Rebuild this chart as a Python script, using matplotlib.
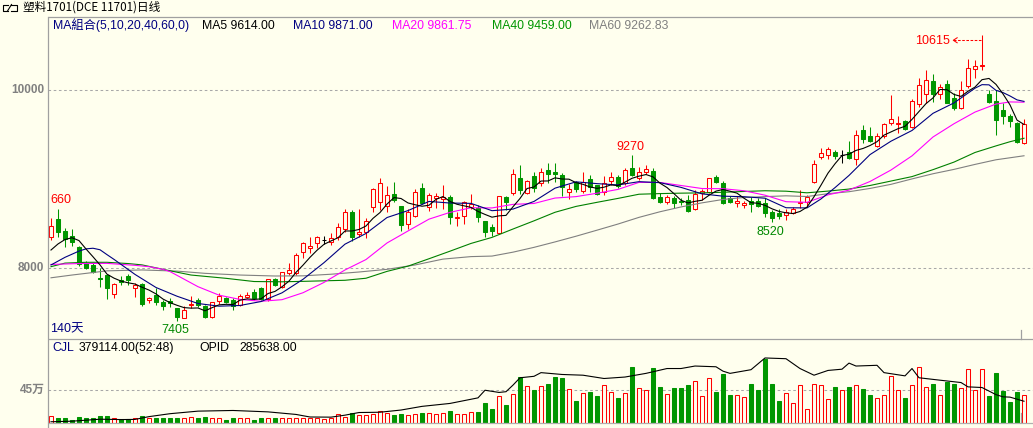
import matplotlib
matplotlib.use('Agg')
import matplotlib.pyplot as plt
from matplotlib.patches import Rectangle

# ---------------- data ----------------
opens = [8345, 8547, 8416, 8363, 8240, 8060, 8034, 7891, 7921, 7704,
         7865, 7910, 7772, 7820, 7641, 7697, 7614, 7633, 7547, 7435,
         7584, 7641, 7573, 7453, 7633, 7667, 7641, 7584, 7678, 7730,
         7772, 7648, 7873, 7790, 7940, 7940, 8184, 8222, 8278, 8315,
         8296, 8353, 8435, 8633, 8379, 8401, 8682, 8738, 8697, 8832,
         8697, 8495, 8589, 8903, 8690, 8791, 8772, 8795, 8562, 8589,
         8682, 8678, 8529, 8465, 8398, 8802, 8847, 9015, 8840, 9038,
         8951, 9101, 9083, 9045, 8850, 8970, 8869, 8996, 8929, 8850,
         8981, 9026, 8951, 9127, 9008, 9083, 9094, 8802, 8746, 8783,
         8757, 8764, 8659, 8839, 8858, 9019, 8959, 8783, 8727, 8708,
         8753, 8753, 8734, 8633, 8614, 8596, 8622, 8727, 8745, 8970,
         9251, 9270, 9300, 9270, 9300, 9221, 9551, 9483, 9375, 9483,
         9625, 9622, 9652, 9588, 9839, 9951, 10101, 9951, 10067, 9914,
         9801, 10048, 10232, 10266, 9951, 9876, 9775, 9711, 9633, 9401]
highs = [8560, 8660, 8446, 8434, 8250, 8079, 8052, 8004, 7925, 7835,
         7910, 7933, 7828, 7828, 7678, 7772, 7641, 7659, 7547, 7573,
         7689, 7667, 7580, 7622, 7723, 7678, 7667, 7708, 7730, 7760,
         7783, 7875, 7891, 7959, 8052, 8165, 8296, 8345, 8360, 8360,
         8398, 8502, 8663, 8652, 8663, 8566, 8896, 9015, 8922, 8971,
         8700, 8660, 8884, 8959, 8847, 8839, 8933, 8821, 8634, 8757,
         8832, 8708, 8530, 8495, 8812, 8810, 9109, 9158, 8989, 9083,
         9120, 9176, 9184, 9071, 8944, 8981, 9083, 9045, 8937, 9034,
         9083, 9045, 9120, 9270, 9139, 9157, 9127, 8847, 8820, 8809,
         8783, 8820, 8877, 8884, 9010, 9045, 8981, 8809, 8809, 8753,
         8794, 8783, 8783, 8652, 8659, 8659, 8689, 8876, 8820, 9214,
         9345, 9356, 9326, 9326, 9427, 9551, 9607, 9588, 9521, 9625,
         9944, 9708, 9663, 9899, 10131, 10225, 10180, 10064, 10112, 9963,
         10105, 10344, 10337, 10615, 10000, 10000, 9850, 9726, 9644, 9670]
lows = [8315, 8352, 8240, 8247, 8023, 7985, 7940, 7790, 7648, 7659,
        7809, 7809, 7678, 7573, 7603, 7584, 7528, 7566, 7405, 7435,
        7547, 7566, 7440, 7435, 7592, 7603, 7528, 7573, 7659, 7641,
        7641, 7633, 7798, 7772, 7921, 7921, 8117, 8173, 8222, 8270,
        8259, 8315, 8409, 8304, 8353, 8334, 8634, 8652, 8634, 8746,
        8420, 8435, 8570, 8720, 8641, 8671, 8663, 8491, 8476, 8495,
        8663, 8521, 8345, 8360, 8390, 8652, 8821, 8832, 8832, 8858,
        8922, 8951, 8970, 8809, 8772, 8858, 8839, 8858, 8820, 8820,
        8933, 8903, 8933, 9034, 8989, 9056, 8775, 8727, 8719, 8671,
        8708, 8626, 8652, 8764, 8847, 8951, 8719, 8727, 8682, 8671,
        8633, 8682, 8570, 8520, 8547, 8539, 8603, 8678, 8689, 8959,
        9225, 9221, 9221, 9176, 9225, 9157, 9401, 9419, 9363, 9464,
        9607, 9521, 9551, 9569, 9813, 9850, 9869, 9895, 9850, 9775,
        9783, 10018, 10131, 10224, 9850, 9494, 9618, 9588, 9401, 9389]
closes = [8472, 8401, 8326, 8296, 8045, 8004, 7959, 7873, 7772, 7820,
          7839, 7865, 7805, 7592, 7659, 7622, 7577, 7603, 7446, 7528,
          7592, 7584, 7446, 7618, 7689, 7622, 7573, 7689, 7693, 7659,
          7652, 7873, 7809, 7951, 7978, 8146, 8278, 8248, 8345, 8315,
          8334, 8458, 8626, 8345, 8401, 8532, 8884, 8952, 8821, 8765,
          8484, 8633, 8851, 8735, 8821, 8813, 8795, 8577, 8574, 8738,
          8720, 8570, 8409, 8420, 8810, 8746, 9053, 8877, 8978, 8896,
          9083, 9056, 9053, 8914, 8884, 8888, 8963, 8907, 8832, 8951,
          9019, 8922, 9101, 9045, 9075, 9109, 8790, 8746, 8802, 8727,
          8738, 8644, 8832, 8865, 9008, 8970, 8734, 8738, 8753, 8727,
          8716, 8701, 8622, 8558, 8584, 8633, 8663, 8738, 8802, 9165,
          9288, 9337, 9262, 9270, 9240, 9494, 9449, 9427, 9483, 9614,
          9670, 9629, 9562, 9876, 10056, 10112, 9951, 10037, 9858, 9794,
          9999, 10243, 10269, 10277, 9861, 9663, 9711, 9655, 9419, 9618]

# volume (unit: 10k lots, 万)
volume = [8.6, 5.5, 5.5, 3.2, 7.3, 5.5, 6.4, 8.2, 8.2, 6.8,
          4.1, 4.1, 6.8, 8.6, 5.9, 5.9, 5.5, 5.5, 5.5, 5.9,
          7.3, 5.5, 7.3, 5.5, 5.5, 3.6, 5.5, 5.5, 5.5, 3.6,
          5.5, 5.5, 5.5, 5.5, 6.8, 6.8, 6.4, 5.5, 5.5, 4.5,
          5.9, 11.8, 7.7, 12.7, 10.9, 10.0, 11.8, 15.5, 13.2, 10.0,
          12, 10, 12, 13.5, 13.5, 12, 13.5, 16, 12, 12,
          15, 15, 27, 18, 36.5, 24, 39, 62.5, 50, 45,
          50, 52, 62.5, 61, 46, 30, 40.5, 41, 35.5, 51,
          42, 34, 40.5, 76, 47, 45, 75, 49, 39, 47,
          47, 50.5, 57, 36.5, 61, 41, 66, 37, 38, 34.5,
          52, 45, 87, 52, 30, 40.5, 26, 51, 19, 53,
          51, 31.5, 49, 45, 49, 51, 46, 37, 33, 38,
          63, 44, 33, 51, 76, 48.5, 53, 37, 55.5, 52,
          47.5, 72.5, 44, 73.5, 36, 67, 43, 28, 41, 37.9]

# open interest line (万)
opid_idx = [0, 3, 7, 10, 12, 14, 17, 21, 26, 31, 35, 37, 40, 42, 44, 47,
            50, 53, 57, 61, 62, 64, 65, 66, 67, 69, 70, 73, 76, 79, 82, 85,
            88, 90, 92, 95, 96, 97, 100, 101, 102, 105, 107, 109, 111, 113,
            114, 115, 118, 119, 122, 123, 124, 127, 130, 131, 133, 135, 136,
            137, 139]
opid_val = [1.0, 1.8, 4.5, 4.0, 4.2, 8, 12, 15.5, 16.4, 14.5, 11, 7.5, 7.3,
            10, 13.6, 14, 17, 22, 26, 33.6, 44, 41, 42, 51, 61, 63, 68, 65.5,
            64.5, 60, 62, 67, 73.6, 73.6, 77, 76, 70, 67, 72, 80, 88, 87,
            73.6, 64.5, 71, 72.7, 81, 77, 78, 68, 63.6, 73.6, 61, 57.7, 54.5,
            48.6, 47.7, 38, 35, 34.6, 29]

# moving averages
ma5_idx = list(range(140))
ma5_val = [8202, 8270, 8320, 8340, 8308, 8214, 8126, 8035, 7931, 7886,
           7853, 7834, 7820, 7784, 7752, 7709, 7651, 7611, 7581, 7555,
           7549, 7551, 7519, 7554, 7586, 7592, 7590, 7638, 7653, 7647,
           7653, 7713, 7737, 7789, 7853, 7951, 8032, 8120, 8199, 8266,
           8304, 8340, 8416, 8416, 8433, 8472, 8558, 8623, 8718, 8791,
           8781, 8731, 8711, 8694, 8705, 8771, 8803, 8748, 8716, 8699,
           8681, 8636, 8602, 8571, 8586, 8591, 8688, 8781, 8893, 8910,
           8977, 8978, 9013, 9000, 8998, 8959, 8940, 8911, 8895, 8908,
           8934, 8926, 8965, 9008, 9032, 9050, 9024, 8953, 8904, 8835,
           8761, 8731, 8749, 8761, 8817, 8864, 8882, 8863, 8841, 8784,
           8734, 8727, 8704, 8665, 8636, 8620, 8612, 8635, 8684, 8800,
           8931, 9066, 9171, 9264, 9279, 9321, 9343, 9376, 9419, 9493,
           9529, 9565, 9592, 9670, 9759, 9847, 9911, 10006, 10003, 9950,
           9928, 9986, 10033, 10116, 10130, 10063, 9956, 9833, 9662, 9613]
ma10_idx = [0, 2, 4, 5, 6, 7, 8, 9, 12, 15, 18, 21, 24, 27, 30, 33, 36, 39,
            42, 45, 48, 51, 54, 57, 60, 63, 66, 69, 72, 75, 78, 81, 84, 87,
            90, 93, 96, 99, 102, 105, 108, 110, 112, 114, 117, 120, 123, 126,
            129, 132, 133, 134, 135, 136, 137, 138, 139]
ma10_val = [8034, 8120, 8190, 8215, 8222, 8205, 8150, 8097, 7928, 7781, 7683,
            7601, 7571, 7579, 7623, 7721, 7873, 8060, 8268, 8388, 8567, 8645,
            8748, 8730, 8726, 8644, 8662, 8748, 8897, 8968, 8948, 8933, 8970,
            8959, 8906, 8833, 8807, 8801, 8784, 8677, 8675, 8776, 8903, 9040,
            9274, 9425, 9545, 9738, 9855, 10020, 10060, 10058, 9996, 9971,
            9933, 9889, 9872]
ma20_idx = [0, 4, 8, 12, 14, 16, 17, 19, 21, 24, 27, 30, 33, 36, 39, 42, 45,
            48, 51, 54, 57, 60, 63, 66, 69, 72, 75, 78, 81, 84, 87, 90, 93,
            96, 99, 102, 105, 108, 111, 114, 117, 120, 123, 126, 129, 132,
            135, 137, 139]
ma20_val = [8040, 8050, 8052, 8030, 8015, 7985, 7960, 7875, 7790, 7695, 7647,
            7626, 7644, 7722, 7838, 7978, 8095, 8281, 8416, 8549, 8625, 8677,
            8675, 8715, 8725, 8786, 8802, 8840, 8883, 8962, 8961, 8927, 8893,
            8891, 8868, 8818, 8745, 8738, 8822, 8875, 8972, 9101, 9260, 9472,
            9621, 9752, 9842, 9866, 9863]
ma40_idx = [0, 2, 5, 8, 11, 13, 16, 20, 25, 29, 33, 36, 39, 42, 45, 48, 51,
            54, 57, 60, 63, 66, 69, 72, 75, 78, 81, 84, 87, 90, 93, 96, 99,
            102, 105, 108, 111, 114, 117, 120, 123, 126, 129, 132, 135, 137,
            139]
ma40_val = [8015, 8055, 8064, 8064, 8050, 8035, 7985, 7921, 7884, 7848, 7845,
            7850, 7856, 7862, 7885, 7962, 8021, 8104, 8189, 8276, 8344, 8438,
            8530, 8626, 8692, 8738, 8782, 8829, 8836, 8841, 8844, 8851, 8860,
            8868, 8863, 8845, 8864, 8887, 8927, 8977, 9027, 9105, 9190, 9298,
            9372, 9419, 9458]
ma60_idx = [0, 3, 8, 13, 18, 22, 27, 32, 36, 40, 44, 48, 52, 56, 60, 63, 66,
            69, 72, 75, 78, 81, 84, 87, 90, 93, 96, 99, 102, 105, 108, 111,
            114, 117, 120, 123, 126, 129, 132, 135, 139]
ma60_val = [7890, 7921, 7968, 7978, 7965, 7940, 7921, 7910, 7912, 7930, 7955,
            7985, 8034, 8100, 8128, 8134, 8178, 8232, 8293, 8357, 8425, 8494,
            8569, 8632, 8686, 8732, 8770, 8792, 8802, 8811, 8803, 8835, 8857,
            8894, 8940, 9001, 9059, 9108, 9164, 9216, 9261]

title = '塑料1701(DCE 11701)日线'
legend_items = [('MA組合(5,10,20,40,60,0)', '#000080'),
                ('MA5 9614.00', '#000000'),
                ('MA10 9871.00', '#000080'),
                ('MA20 9861.75', '#FF00FF'),
                ('MA40 9459.00', '#009600'),
                ('MA60 9262.83', '#808080')]
price_ticks = [8000, 10000]
vol_tick = 45

# ---------------- style ----------------
W, H, DPI = 1033, 428, 100
BG = '#FFFFEE'
RED = '#FF0000'
GREEN = '#009600'
FRAME = '#A0A0A0'
GRID = '#A8A8A8'
plt.rcParams['font.family'] = ['Liberation Sans', 'Noto Sans CJK SC', 'DejaVu Sans']

X0, XR = 48, 1033
PT, PB = 16.5, 339
VT, VB = 339, 422.5
STEP, C0 = 7.0, 51.0
P_REF_PX, P_REF, PPX = 90.0, 10000.0, 11.236
VPX = 0.7333  # px per 万

fig = plt.figure(figsize=(W / DPI, H / DPI), dpi=DPI, facecolor=BG)

def rect(t, b):
    return [X0 / W, 1 - b / H, (XR - X0) / W, (b - t) / H]

xlim = ((X0 - C0) / STEP, (XR - C0) / STEP)
axp = fig.add_axes(rect(PT, PB))
axv = fig.add_axes(rect(VT, VB))
for ax in (axp, axv):
    ax.set_axis_off()
    ax.set_xlim(*xlim)
axp.set_ylim(P_REF - (PB - P_REF_PX) * PPX, P_REF + (P_REF_PX - PT) * PPX)
axv.set_ylim(0, (VB - VT) / VPX)

BW = 0.68
LW = 0.75

# grid lines
for p in price_ticks:
    axp.axhline(p, color=GRID, lw=0.75, dashes=(2.5, 2.5), zorder=1)
axv.axhline(vol_tick, color=GRID, lw=0.75, dashes=(2.5, 2.5), zorder=1)

# candles
for i, (o, h, l, c) in enumerate(zip(opens, highs, lows, closes)):
    if c == o:
        axp.vlines(i, l, h, color='black', lw=LW, zorder=3)
        axp.hlines(c, i - BW / 2, i + BW / 2, color='black', lw=LW, zorder=3)
        continue
    up = c > o
    col = RED if up else GREEN
    axp.vlines(i, l, h, color=col, lw=LW, zorder=3)
    axp.add_patch(Rectangle((i - BW / 2, min(o, c)), BW, abs(c - o),
                            facecolor=BG if up else GREEN, edgecolor=col,
                            lw=LW, zorder=4))

# moving averages
for idx, val, col in [(ma60_idx, ma60_val, '#808080'),
                      (ma40_idx, ma40_val, '#008000'),
                      (ma20_idx, ma20_val, '#FF00FF'),
                      (ma10_idx, ma10_val, '#000080'),
                      (ma5_idx, ma5_val, '#000000')]:
    axp.plot(idx, val, color=col, lw=0.8, zorder=5, solid_joinstyle='round')

# volume bars
for i, v in enumerate(volume):
    up = closes[i] >= opens[i]
    col = RED if up else GREEN
    axv.add_patch(Rectangle((i - BW / 2, 0), BW, v,
                            facecolor=BG if up else GREEN, edgecolor=col,
                            lw=LW, zorder=3))
axv.plot(opid_idx, opid_val, color='black', lw=0.8, zorder=5)

# annotations on extremes
fs_ann = 9
axp.annotate('9270', xy=(83, highs[83]), xytext=(-2, 8), textcoords='offset pixels',
             ha='center', va='center', color=RED, fontsize=fs_ann, zorder=6)
axp.annotate('7405', xy=(18, lows[18]), xytext=(-2, -9), textcoords='offset pixels',
             ha='center', va='center', color='#008800', fontsize=fs_ann, zorder=6)
axp.annotate('8520', xy=(103, lows[103]), xytext=(-2, -10.5), textcoords='offset pixels',
             ha='center', va='center', color='#008800', fontsize=fs_ann, zorder=6)
axp.annotate('660', xy=(1, highs[1]), xytext=(-8, 9), textcoords='offset pixels',
             ha='left', va='center', color=RED, fontsize=fs_ann, zorder=6)
axp.annotate('10615', xy=(133, highs[133]), xytext=(-32, -6), textcoords='offset pixels',
             ha='right', va='center', color=RED, fontsize=fs_ann, zorder=6)
ya = highs[133] - 5 * PPX
axp.plot([133 - 0.15, 133 - 4.1], [ya, ya], color=RED, lw=0.75,
         dashes=(2.5, 1.5), zorder=6)
axp.plot([133 - 4.1 + 0.55, 133 - 4.1, 133 - 4.1 + 0.55],
         [ya + 2.5 * PPX, ya, ya - 2.5 * PPX], color=RED, lw=0.75, zorder=6)

# ---------------- overlay (frame + texts) ----------------
axo = fig.add_axes([0, 0, 1, 1], zorder=10)
axo.set_xlim(0, W)
axo.set_ylim(H, 0)
axo.set_axis_off()
axo.patch.set_visible(False)

def hline(y, x1=X0, x2=W, col=FRAME):
    axo.plot([x1, x2], [y, y], color=col, lw=0.9, solid_capstyle='butt')

hline(16.5)
hline(339)
hline(422.5, col='#B0B0B0')
axo.plot([X0, X0], [16.5, H], color=FRAME, lw=0.9)
axo.plot([1021, 1021], [330, 339], color=FRAME, lw=0.9)
axo.plot([1021, 1021], [413, 422], color=FRAME, lw=0.9)

# icon
axo.plot([8, 2.5, 2.5, 8], [5, 5, 10.5, 10.5], color='black', lw=0.8)
axo.plot([11, 17, 17, 11], [5, 5, 10.5, 10.5], color='black', lw=0.8)
axo.plot([7.5, 11.5], [11, 4.5], color='black', lw=0.8)

axo.text(23, 7.5, title, fontsize=8.4, va='center', ha='left', color='black',
         family=['Noto Sans CJK SC', 'DejaVu Sans'])

leg_x = [52.5, 201.5, 293, 392.5, 492.5, 589]
for (txt, col), x in zip(legend_items, leg_x):
    axo.text(x, 25.5, txt, fontsize=8.8, color=col, va='center', ha='left')

axo.text(52.5, 348, 'CJL', fontsize=8.8, color='#000080', va='center', ha='left')
axo.text(79, 348, '379114.00(52:48)', fontsize=8.8, color='black', va='center', ha='left')
axo.text(199, 348, 'OPID', fontsize=8.8, color='black', va='center', ha='left')
axo.text(239, 348, '285638.00', fontsize=8.8, color='black', va='center', ha='left')

axo.text(50, 329, '140天', fontsize=9, color='#000080', va='center', ha='left')

for p in price_ticks:
    y = P_REF_PX - (p - P_REF) / PPX
    axo.text(44.5, y, str(p), fontsize=8.5, fontweight='bold', color='#808080',
             va='center', ha='right')
axo.text(44.5, VB - vol_tick * VPX, '45万', fontsize=8.5, fontweight='bold',
         color='#808080', va='center', ha='right')

fig.savefig('out.png', dpi=DPI, facecolor=BG)
